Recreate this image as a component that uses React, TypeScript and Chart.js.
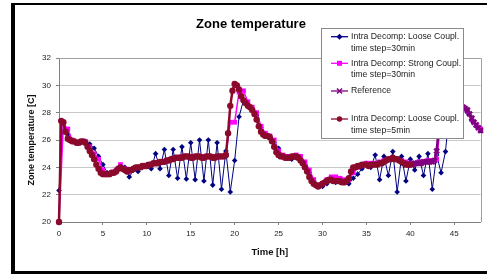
import React, { useEffect, useRef } from 'react';
import { Chart, registerables } from 'chart.js';

Chart.register(...registerables);

// ---------- data ----------
const chartTitle = 'Zone temperature';
const xAxisTitle = 'Time [h]';
const yAxisTitle = 'Zone temperature [C]';

const xMin = 0;
const xMax = 48;
const xTickStep = 5;
const yMin = 20;
const yMax = 32;
const yTickStep = 2;

const seriesLabels: string[][] = [
  ['Intra Decomp: Loose Coupl.', 'time step=30min'],
  ['Intra Decomp: Strong Coupl.', 'time step=30min'],
  ['Reference'],
  ['Intra Decomp: Loose Coupl.', 'time step=5min'],
];

// Loose coupling, 30 min step (t = 0 .. 48 h, every 0.5 h)
const loose30Start = 0;
const loose30Step = 0.5;
const loose30Temps = [
  22.3, 27.3, 26.4, 25.9, 25.8, 25.8, 25.9, 25.7, 25.4, 24.8,
  24.2, 23.6, 23.6, 23.7, 24.1, 24.0, 23.3, 23.8, 23.7, 24.0,
  24.2, 23.9, 25.0, 23.9, 25.3, 23.4, 25.3, 23.2, 25.5, 23.15,
  25.8, 23.1, 26.0, 23.0, 26.0, 22.7, 25.8, 22.4, 25.2, 22.2,
  24.5, 27.7, 28.9, 28.5, 28.3, 27.8, 26.9, 26.4, 26.2, 25.8,
  25.4, 24.8, 24.7, 24.6, 24.7, 24.6, 24.2, 23.6, 23.0, 22.6,
  22.6, 22.8, 23.0, 22.9, 22.9, 22.9, 22.8, 23.2, 23.5, 23.9,
  24.3, 24.0, 24.9, 23.1, 24.8, 23.4, 25.15, 22.2, 24.8, 23.0,
  24.6, 23.8, 24.8, 23.4, 25.0, 22.4, 24.9, 23.6, 25.15, 28.4,
  29.4, 28.8, 28.3, 28.0, 27.4, 27.0, 26.7,
];

// Strong coupling, 30 min step (t = 0 .. 48 h, every 0.5 h)
const strong30Start = 0;
const strong30Step = 0.5;
const strong30Temps = [
  20.0, 27.2, 26.8, 26.0, 25.8, 25.9, 25.9, 25.5, 25.0, 24.6,
  23.8, 23.5, 23.6, 23.8, 24.2, 23.9, 23.7, 23.9, 24.0, 24.1,
  24.1, 24.2, 24.3, 24.4, 24.4, 24.5, 24.6, 24.7, 24.8, 24.8,
  24.8, 24.8, 24.8, 24.8, 24.8, 24.8, 24.8, 24.8, 24.9, 27.3,
  27.3, 29.5, 29.6, 28.8, 28.4, 28.0, 27.0, 26.5, 26.3, 26.0,
  25.2, 24.9, 24.8, 24.8, 24.9, 24.8, 24.4, 23.8, 23.1, 22.7,
  22.8, 23.1, 23.3, 23.3, 23.2, 23.1, 23.1, 23.6, 24.0, 24.2,
  24.3, 24.3, 24.3, 24.4, 24.5, 24.6, 24.7, 24.6, 24.5, 24.4,
  24.3, 24.3, 24.4, 24.4, 24.5, 24.5, 24.6, 27.5, 28.0, 29.5,
  29.5, 28.7, 28.4, 28.1, 27.5, 27.1, 26.8,
];

// Reference (visible part, t = 39.5 .. 48 h, every 0.25 h)
const referenceStart = 39.5;
const referenceStep = 0.25;
const referenceTemps = [
  24.2, 24.2, 24.2, 24.2, 24.3, 24.3, 24.3, 24.3, 24.4, 24.4,
  24.4, 24.4, 24.4, 24.5, 25.2, 27.0, 28.6, 29.6, 30.0, 29.9,
  29.5, 29.1, 28.9, 28.7, 28.6, 28.5, 28.4, 28.3, 28.2, 27.9,
  27.6, 27.3, 27.1, 26.9, 26.7,
];

// Loose coupling, 5 min step (t = 0 .. 40 h, read every 0.25 h)
const loose5Start = 0;
const loose5Step = 0.25;
const loose5Temps = [
  20.0, 27.4, 27.3, 26.6, 26.1, 26.0, 25.9, 25.9, 25.8, 25.8,
  25.9, 25.9, 25.8, 25.5, 25.2, 24.9, 24.6, 24.2, 23.9, 23.6,
  23.5, 23.5, 23.5, 23.5, 23.6, 23.6, 23.7, 23.9, 24.0, 23.9,
  23.8, 23.7, 23.8, 23.8, 23.9, 24.0, 24.0, 24.0, 24.1, 24.1,
  24.1, 24.2, 24.2, 24.3, 24.3, 24.3, 24.4, 24.4, 24.4, 24.5,
  24.5, 24.6, 24.6, 24.7, 24.7, 24.7, 24.7, 24.8, 24.8, 24.8,
  24.7, 24.7, 24.8, 24.8, 24.8, 24.7, 24.7, 24.8, 24.8, 24.8,
  24.7, 24.7, 24.8, 24.8, 24.8, 24.8, 24.9, 26.5, 28.5, 29.6,
  30.1, 30.0, 29.7, 29.2, 28.9, 28.7, 28.5, 28.4, 28.2, 27.9,
  27.5, 27.0, 26.6, 26.4, 26.3, 26.3, 26.2, 25.9, 25.5, 25.1,
  24.9, 24.8, 24.8, 24.7, 24.7, 24.7, 24.8, 24.8, 24.8, 24.7,
  24.5, 24.3, 24.0, 23.7, 23.3, 23.0, 22.8, 22.7, 22.6, 22.7,
  22.8, 22.9, 23.0, 23.1, 23.1, 23.0, 23.0, 23.0, 23.0, 22.9,
  22.9, 23.0, 23.2, 23.7, 24.0, 24.0, 24.1, 24.1, 24.2, 24.2,
  24.2, 24.1, 24.2, 24.2, 24.2, 24.2, 24.3, 24.3, 24.4, 24.5,
  24.6, 24.6, 24.7, 24.6, 24.6, 24.5, 24.4, 24.3, 24.2, 24.2,
  24.2,
];

// ---------- styles ----------
const FONT = '"Liberation Sans", Arial, Helvetica, sans-serif';
const navy = '#000080';
const magenta = '#ff00ff';
const purple = '#800080';
const darkRed = '#8b0a2c';

function toPoints(start: number, step: number, values: number[]) {
  return values.map((y, i) => ({ x: start + i * step, y }));
}

type MarkerKind = 'diamond' | 'square' | 'cross' | 'circle';
const legendMarkers: MarkerKind[] = ['diamond', 'square', 'cross', 'circle'];
const legendColors = [navy, magenta, purple, darkRed];

function drawMarker(ctx: CanvasRenderingContext2D, kind: MarkerKind, x: number, y: number, color: string) {
  ctx.save();
  ctx.fillStyle = color;
  ctx.strokeStyle = color;
  ctx.beginPath();
  if (kind === 'diamond') {
    ctx.moveTo(x, y - 3);
    ctx.lineTo(x + 3, y);
    ctx.lineTo(x, y + 3);
    ctx.lineTo(x - 3, y);
    ctx.closePath();
    ctx.fill();
  } else if (kind === 'square') {
    ctx.rect(x - 2.5, y - 2.5, 5, 5);
    ctx.fill();
  } else if (kind === 'cross') {
    ctx.lineWidth = 1.5;
    ctx.moveTo(x - 2.5, y - 2.5);
    ctx.lineTo(x + 2.5, y + 2.5);
    ctx.moveTo(x + 2.5, y - 2.5);
    ctx.lineTo(x - 2.5, y + 2.5);
    ctx.stroke();
  } else {
    ctx.arc(x, y, 2.7, 0, Math.PI * 2);
    ctx.fill();
  }
  ctx.restore();
}

const frameAndLegendPlugin = {
  id: 'frameAndLegend',
  beforeDatasetsDraw(chart: any) {
    const { ctx, chartArea } = chart;
    ctx.save();
    ctx.strokeStyle = '#a0a0a0';
    ctx.lineWidth = 1;
    ctx.beginPath();
    ctx.moveTo(chartArea.left, Math.round(chartArea.top) + 0.5);
    ctx.lineTo(Math.round(chartArea.right) + 0.5, Math.round(chartArea.top) + 0.5);
    ctx.lineTo(Math.round(chartArea.right) + 0.5, chartArea.bottom);
    ctx.stroke();
    ctx.restore();
  },
  afterDraw(chart: any) {
    const ctx: CanvasRenderingContext2D = chart.ctx;
    const box = { x: 321, y: 28, w: 143, h: 111 };
    ctx.save();
    ctx.fillStyle = '#ffffff';
    ctx.fillRect(box.x, box.y, box.w, box.h);
    ctx.strokeStyle = '#8a8a8a';
    ctx.lineWidth = 1;
    ctx.strokeRect(box.x + 0.5, box.y + 0.5, box.w - 1, box.h - 1);

    const rowY = [36.7, 63.3, 91, 119];
    const lineGap = 11.8;
    ctx.font = `8.7px ${FONT}`;
    ctx.textBaseline = 'middle';
    ctx.textAlign = 'left';
    chart.data.datasets.forEach((ds: any, i: number) => {
      const y = rowY[i];
      const color = legendColors[i];
      ctx.strokeStyle = color;
      ctx.lineWidth = 1.3;
      ctx.beginPath();
      ctx.moveTo(331, y);
      ctx.lineTo(348, y);
      ctx.stroke();
      drawMarker(ctx, legendMarkers[i], 339.5, y, color);
      ctx.fillStyle = '#222';
      const lines = seriesLabels[i];
      lines.forEach((t, k) => ctx.fillText(t, 351, y + k * lineGap));
    });
    ctx.restore();
  },
};

export default function App() {
  const canvasRef = useRef<HTMLCanvasElement | null>(null);

  useEffect(() => {
    const canvas = canvasRef.current;
    if (!canvas) return;
    const chart = new Chart(canvas, {
      type: 'line',
      data: {
        datasets: [
          {
            label: seriesLabels[0].join(' '),
            data: toPoints(loose30Start, loose30Step, loose30Temps),
            borderColor: navy,
            backgroundColor: navy,
            borderWidth: 1,
            pointStyle: 'rectRot',
            pointRadius: 2.8,
            pointBorderWidth: 0,
            pointBackgroundColor: navy,
            order: 3,
            clip: false,
          },
          {
            label: seriesLabels[1].join(' '),
            data: toPoints(strong30Start, strong30Step, strong30Temps),
            borderColor: magenta,
            backgroundColor: magenta,
            borderWidth: 1.5,
            pointStyle: 'rect',
            pointRadius: 3.4,
            pointBorderWidth: 0,
            pointBackgroundColor: magenta,
            order: 2,
            clip: false,
          },
          {
            label: seriesLabels[2].join(' '),
            data: toPoints(referenceStart, referenceStep, referenceTemps),
            borderColor: purple,
            backgroundColor: purple,
            borderWidth: 2.5,
            pointStyle: 'crossRot',
            pointRadius: 3.4,
            pointBorderWidth: 2.4,
            pointBorderColor: purple,
            order: 1,
            clip: false,
          },
          {
            label: seriesLabels[3].join(' '),
            data: toPoints(loose5Start, loose5Step, loose5Temps),
            borderColor: darkRed,
            backgroundColor: darkRed,
            borderWidth: 2.5,
            pointStyle: 'circle',
            pointRadius: 3.2,
            pointBorderWidth: 0,
            pointBackgroundColor: darkRed,
            order: 0,
            clip: false,
          },
        ],
      },
      options: {
        responsive: false,
        animation: false,
        devicePixelRatio: 1,
        layout: { padding: { left: 21, right: 6, top: 0, bottom: 0 } },
        plugins: {
          legend: { display: false },
          tooltip: { enabled: false },
          title: {
            display: true,
            text: chartTitle,
            color: '#000',
            font: { family: FONT, size: 13, weight: 'bold' },
            padding: { top: 16.2, bottom: 26.2 },
          },
        },
        scales: {
          x: {
            type: 'linear',
            min: xMin,
            max: xMax,
            afterFit: (scale: any) => { scale.height = 52; },
            ticks: {
              stepSize: xTickStep,
              includeBounds: false,
              color: '#222',
              font: { family: FONT, size: 8 },
              padding: 4,
              maxRotation: 0,
            },
            grid: {
              drawOnChartArea: false,
              drawTicks: true,
              tickLength: 3,
              tickColor: '#808080',
            },
            border: { color: '#808080', width: 1 },
            title: {
              display: true,
              text: xAxisTitle,
              color: '#111',
              font: { family: FONT, size: 9.5, weight: 'bold' },
              padding: { top: 0, bottom: 16 },
            },
          },
          y: {
            type: 'linear',
            min: yMin,
            max: yMax,
            afterFit: (scale: any) => { scale.width = 38; },
            ticks: {
              stepSize: yTickStep,
              color: '#222',
              font: { family: FONT, size: 8 },
              padding: 5,
            },
            grid: {
              color: '#c8c8c8',
              lineWidth: 1,
              drawTicks: true,
              tickLength: 3,
              tickColor: '#808080',
            },
            border: { color: '#808080', width: 1 },
            title: {
              display: true,
              text: yAxisTitle,
              color: '#111',
              font: { family: FONT, size: 9, weight: 'bold' },
              padding: { top: 5.6, bottom: 0 },
            },
          },
        },
      },
      plugins: [frameAndLegendPlugin],
    } as any);
    return () => chart.destroy();
  }, []);

  return (
    <div
      style={{
        position: 'fixed',
        left: 0,
        top: 0,
        width: 487,
        height: 274,
        background: '#fff',
        overflow: 'hidden',
      }}
    >
      <div
        style={{
          position: 'absolute',
          left: 11,
          top: 3,
          width: 500,
          height: 271,
          boxSizing: 'border-box',
          borderLeft: '4px solid #000',
          borderTop: '2px solid #000',
          borderBottom: '3px solid #000',
          background: '#fff',
        }}
      />
      <canvas
        ref={canvasRef}
        width={487}
        height={274}
        style={{ position: 'absolute', left: 0, top: 0, width: 487, height: 274 }}
      />
    </div>
  );
}
